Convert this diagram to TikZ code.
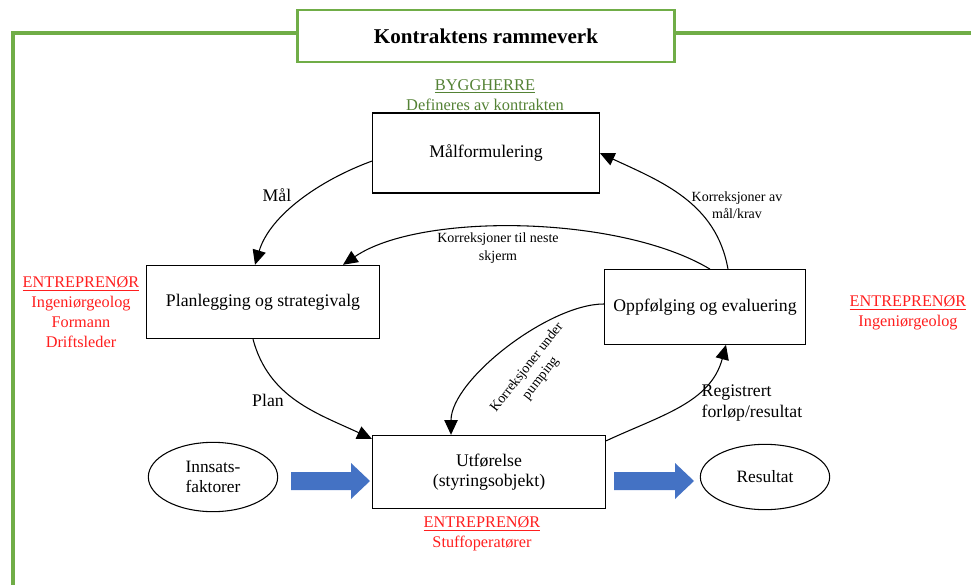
\documentclass[tikz,border=0pt]{standalone}
\usepackage{fontspec}
\setmainfont{Liberation Serif}
\usepackage{tikz}
\usetikzlibrary{arrows.meta,calc,shapes.geometric}
\definecolor{rammegreen}{RGB}{112,173,71}
\definecolor{byggreen}{RGB}{84,130,53}
\definecolor{entred}{RGB}{255,30,30}
\definecolor{pilblue}{RGB}{68,114,196}

\begin{document}
\begin{tikzpicture}[x=0.75pt, y=-0.75pt,
    boks/.style={draw, thick, fill=white, align=center, font=\fontsize{13.3}{15.5}\selectfont},
    rund/.style={draw, thick, ellipse, align=center, font=\fontsize{13}{15}\selectfont,
                 inner sep=0pt, minimum width=97pt, minimum height=52pt},
    pil/.style={thick, -{Triangle[length=11pt,width=10pt]}},
    merk/.style={align=center, font=\fontsize{10.5}{13}\selectfont},
    rolle/.style={align=center, text=entred, font=\fontsize{12.2}{14.8}\selectfont}]

          \useasboundingbox (0,0) rectangle (971,585);

          % Green frame with title box
          \draw[rammegreen, line width=3pt] (13,585) -- (13,33) -- (971,33);
          \node[draw=rammegreen, line width=2.2pt, fill=white, minimum width=283pt, minimum height=39pt,
                font=\fontsize{15.8}{18}\selectfont\bfseries] (tittel) at (486,36) {Kontraktens rammeverk};

          % The four boxes
          \node[boks, minimum width=170pt, minimum height=60pt] (maal) at (486,153) {Målformulering};
          \node[boks, minimum width=175pt, minimum height=55pt] (plan) at (263,302) {Planlegging og strategivalg};
          \node[boks, minimum width=151pt, minimum height=56pt] (oppf) at (705,307) {Oppfølging og evaluering};
          \node[boks, minimum width=175pt, minimum height=55pt] (utf) at (489,472) {Utførelse\\(styringsobjekt)};

          % Ellipses
          \node[rund] (inn) at (213,477) {Innsats-\\faktorer};
          \node[rund, minimum height=49pt] (res) at (765,477) {Resultat};

          % Blue arrows
          \foreach \s/\e in {291/370, 614/694} {
              \fill[pilblue] (\s,472) -- (\e-19,472) -- (\e-19,463) -- (\e,481)
                             -- (\e-19,499) -- (\e-19,490) -- (\s,490) -- cycle;
          }

          % Connectors
          \draw[pil] ($(maal.west)+(0,8)$) .. controls (320,180) and (270,215) .. ($(plan.north)+(-8,0)$);
          \draw[pil] ($(oppf.north)+(5,0)$) .. controls (620,215) and (420,212) .. ($(plan.north)+(80,0)$);
          \draw[pil] ($(oppf.north)+(23,0)$) to[out=100, in=-25] (maal.east);
          \draw[pil] ($(plan.south)+(-10,0)$) to[out=-75, in=155] ($(utf.north west)+(0,4)$);
          \draw[pil] ($(utf.north east)+(0,6)$) to[out=25, in=-105] ($(oppf.south)+(21,0)$);
          \draw[pil] ($(oppf.west)+(0,-3)$) to[out=180, in=90, looseness=0.7] ($(utf.north)+(-38,0)$);

          % Connector labels
          \node[font=\fontsize{13.3}{15.5}\selectfont] (lmaal) at (277,195) {Mål};
          \node[font=\fontsize{13.3}{15.5}\selectfont] (lplan) at (268,400) {Plan};
          \node[merk] (lkrav) at (737,205) {Korreksjoner av\\mål/krav};
          \node[merk] (lskjerm) at (498,248) {Korreksjoner til neste\\skjerm};
          \node[merk, rotate=52] (lpump) at (534,373) {Korreksjoner under\\pumping};
          \node[align=left, anchor=west, font=\fontsize{13.3}{16}\selectfont] (lreg) at (697,403) {Registrert\\forløp/resultat};

          % Roles
          \node[align=center, text=byggreen, font=\fontsize{12.3}{14.8}\selectfont] (bygg) at (485,95)
               {\underline{BYGGHERRE}\\Defineres av kontrakten};
          \node[rolle] (ent1) at (81,312) {\underline{ENTREPRENØR}\\Ingeniørgeolog\\Formann\\Driftsleder};
          \node[rolle] (ent2) at (908,313) {\underline{ENTREPRENØR}\\Ingeniørgeolog};
          \node[rolle] (ent3) at (482,534) {\underline{ENTREPRENØR}\\Stuffoperatører};

\end{tikzpicture}
\end{document}
